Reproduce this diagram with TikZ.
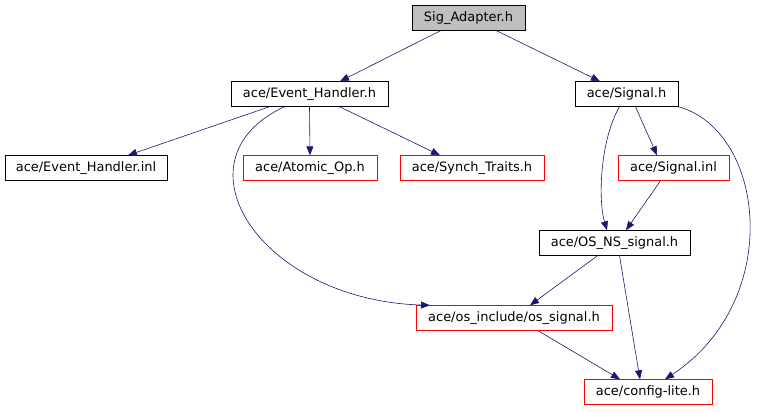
\documentclass[tikz,border=0pt]{standalone}
\usepackage{fontspec}
\setmainfont{DejaVu Sans}
\usetikzlibrary{arrows.meta}
\definecolor{edgeblue}{HTML}{191970}
\definecolor{boxgray}{HTML}{BFBFBF}
\tikzset{
  file/.style={draw=black, fill=white, rectangle, inner sep=0pt, minimum height=25bp, font=\fontsize{13}{15}\selectfont, text=black},
  rootfile/.style={file, fill=boxgray},
  extfile/.style={file, draw=red},
  dep/.style={draw=edgeblue, -{Triangle[length=9bp,width=7bp]}, line width=0.6bp},
}
\begin{document}
\begin{tikzpicture}[x=1bp,y=-1bp]
\useasboundingbox (0,0) rectangle (759,411);
\node[rootfile, minimum width=113bp] (sig) at (468.5,18) {Sig\_Adapter.h};
\node[file, minimum width=157bp] (eh) at (309.5,94) {ace/Event\_Handler.h};
\node[file, minimum width=103bp] (signal) at (626.5,94) {ace/Signal.h};
\node[file, minimum width=162bp] (ehinl) at (86,168) {ace/Event\_Handler.inl};
\node[extfile, minimum width=134bp] (atomic) at (310,168) {ace/Atomic\_Op.h};
\node[extfile, minimum width=144bp] (synch) at (472,168) {ace/Synch\_Traits.h};
\node[extfile, minimum width=111bp] (siginl) at (673.5,168) {ace/Signal.inl};
\node[file, minimum width=151bp] (osns) at (614.5,243) {ace/OS\_NS\_signal.h};
\node[extfile, minimum width=196bp] (ossig) at (514,318) {ace/os\_include/os\_signal.h};
\node[extfile, minimum width=128bp] (cfg) at (648,392) {ace/config-lite.h};

\draw[dep] (sig.south) ++(-28,0) coordinate (s1) (s1) -- (eh.north -| 340,0);
\draw[dep] (sig.south) ++(28,0) coordinate (s2) (s2) -- (signal.north -| 600,0);
\draw[dep] (eh.south) ++(-40,0) coordinate (e1) (e1) -- (ehinl.north -| 128,0);
\draw[dep] (eh.south) -- (atomic.north);
\draw[dep] (eh.south) ++(30,0) coordinate (e3) (e3) -- (synch.north -| 440,0);
\draw[dep] (eh.south) ++(-25,0) coordinate (e4) (e4) .. controls (170,160) and (260,300) .. (ossig.north -| 430,0);
\draw[dep] (signal.south) ++(9,0) coordinate (g1) (g1) -- (siginl.north -| 657,0);
\draw[dep] (signal.south) ++(-7,0) coordinate (g2) (g2) .. controls (600,140) and (598,200) .. (osns.north -| 607,0);
\draw[dep] (signal.south east) .. controls (765,130) and (785,300) .. (cfg.north -| 665,0);
\draw[dep] (siginl.south) ++(-13,0) coordinate (i1) (i1) -- (osns.north -| 626,0);
\draw[dep] (osns.south) ++(-17,0) coordinate (o1) (o1) -- (ossig.north -| 530,0);
\draw[dep] (osns.south) ++(5,0) coordinate (o2) (o2) -- (cfg.north -| 640,0);
\draw[dep] (ossig.south) ++(24,0) coordinate (p1) (p1) -- (cfg.north -| 620,0);
\end{tikzpicture}
\end{document}
